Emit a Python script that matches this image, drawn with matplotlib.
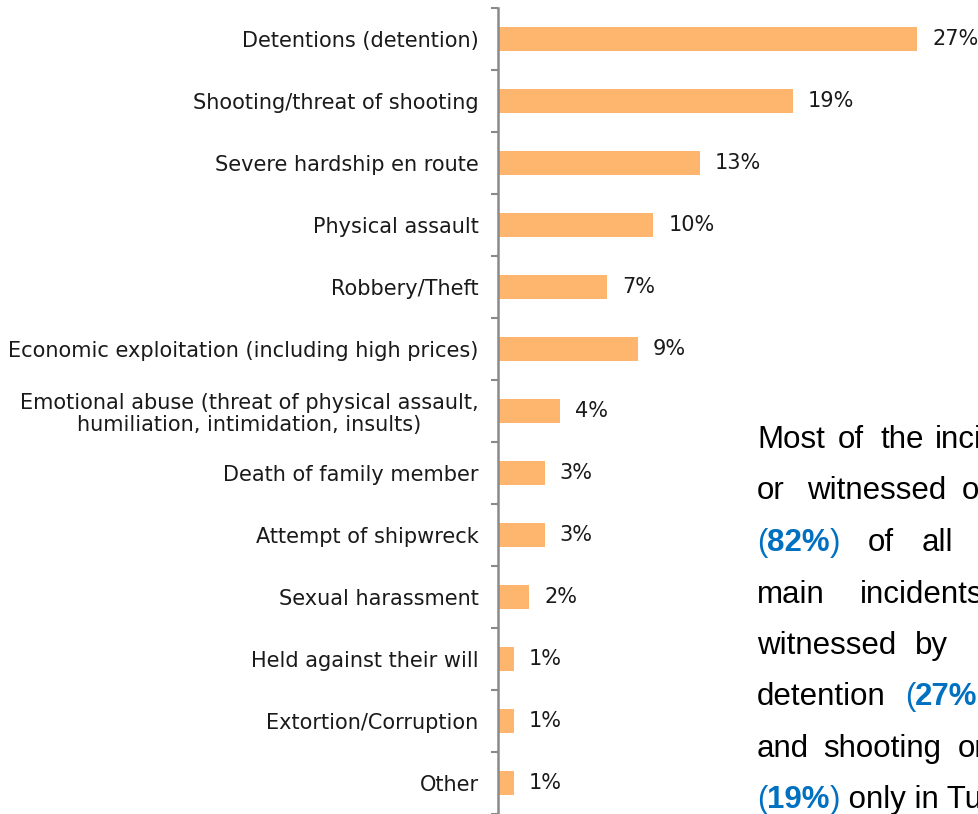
import numpy as np
import matplotlib.pyplot as plt

categories = ['Detentions (detention)', 'Shooting/threat of shooting',
              'Severe hardship en route', 'Physical assault', 'Robbery/Theft',
              'Economic exploitation (including high prices)',
              'Emotional abuse (threat of physical assault,\nhumiliation, intimidation, insults)',
              'Death of family member', 'Attempt of shipwreck', 'Sexual harassment',
              'Held against their will', 'Extortion/Corruption', 'Other']
values = [27, 19, 13, 10, 7, 9, 4, 3, 3, 2, 1, 1, 1]
value_labels = ['%d%%' % v for v in values]

bar_color = '#FEB56E'
axis_color = '#8A8A8A'
blue = '#0070C0'
lab_font = 'DejaVu Sans'
lab_size = 15

fig = plt.figure(figsize=(9.79, 8.14), dpi=100)
ax = fig.add_axes([498 / 979, 0, 481 / 979, 806 / 814])

y = np.arange(len(categories))
ax.barh(y, values, height=0.4, color=bar_color, zorder=2)
for yy, v, s in zip(y, values, value_labels):
    ax.annotate(s, (v, yy), xytext=(11, 0), textcoords='offset points',
                va='center', ha='left', fontsize=lab_size, family=lab_font,
                color='#1a1a1a')

ax.set_xlim(0, 31)
ax.set_ylim(len(categories) - 0.5, -0.5)
for s in ['top', 'right', 'bottom']:
    ax.spines[s].set_visible(False)
ax.spines['left'].set_color(axis_color)
ax.spines['left'].set_linewidth(1.8)
ax.set_xticks([])
ax.set_yticks(y)
ax.set_yticklabels(categories, fontsize=lab_size, family=lab_font, color='#1a1a1a',
                   linespacing=1.15)
for lbl in ax.get_yticklabels():
    lbl.set_multialignment('center')
ax.tick_params(axis='y', which='major', length=0, pad=14)
ax.set_yticks(np.arange(len(categories) + 1) - 0.5, minor=True)
ax.tick_params(axis='y', which='minor', length=5, width=1.5, color=axis_color)

# side note, justified lines running off the right edge
tax = fig.add_axes([0, 0, 1, 1])
tax.axis('off')
tax.set_xlim(0, 979)
tax.set_ylim(814, 0)
txt_kw = dict(fontsize=22.5, family='Liberation Sans')


def put(x, yb, pieces):
    prev = None
    for text, col, weight in pieces:
        if prev is None:
            prev = tax.annotate(text, (x, yb), xycoords='data', va='baseline',
                                ha='left', annotation_clip=False, color=col,
                                fontweight=weight, **txt_kw)
        else:
            prev = tax.annotate(text, (1, 0), xycoords=prev, va='bottom',
                                ha='left', annotation_clip=False, color=col,
                                fontweight=weight, **txt_kw)


k = 'black'
lines = [
    (448, [(757, 'Most'), (838, 'of'), (881, 'the'), (935, 'incidents')]),
    (499, [(757, 'or'), (807, 'witnessed'), (962, 'occurred')]),
    (551, [(868, 'of'), (922, 'all')]),
    (603, [(757, 'main'), (860, 'incidents')]),
    (654, [(757, 'witnessed'), (915, 'by')]),
    (705, [(757, 'detention')]),
    (757, [(757, 'and'), (823, 'shooting'), (958, 'or')]),
]
for yb, words in lines:
    for x, w in words:
        put(x, yb, [(w, k, 'normal')])
put(757, 551, [('(', blue, 'normal'), ('82%', blue, 'bold'), (')', blue, 'normal')])
put(905, 705, [('(', blue, 'normal'), ('27%', blue, 'bold'), (')', blue, 'normal')])
put(757, 808, [('(', blue, 'normal'), ('19%', blue, 'bold'), (')', blue, 'normal'),
               (' only in Turkey', k, 'normal')])

fig.savefig('out.png', dpi=100)
